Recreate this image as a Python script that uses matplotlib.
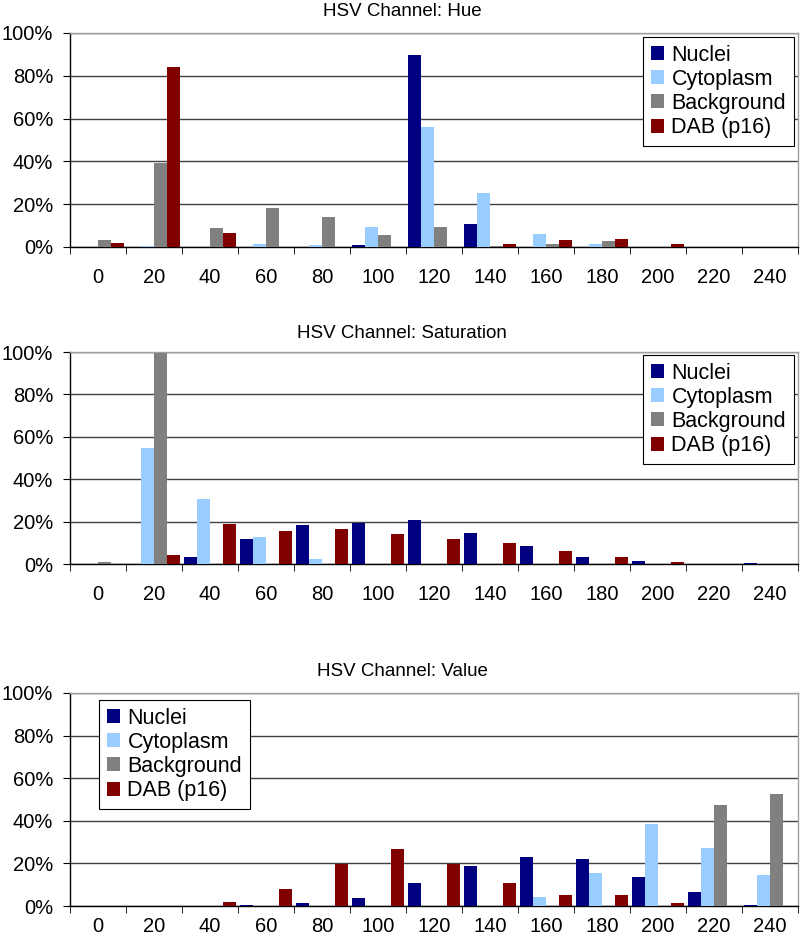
import numpy as np
import matplotlib
matplotlib.use("Agg")
import matplotlib.pyplot as plt
from matplotlib.ticker import FixedLocator, NullFormatter
from matplotlib.patches import Patch

plt.rcParams['font.family'] = ['Liberation Sans', 'DejaVu Sans']

# bins shown on the x axis
bins = ['0', '20', '40', '60', '80', '100', '120', '140', '160', '180', '200', '220', '240']
series = ['Nuclei', 'Cytoplasm', 'Background', 'DAB (p16)']
colors = ['#000080', '#99ccff', '#808080', '#800000']

# HSV channel: Hue (percent)
hue_nuclei = [0, 0, 0, 0, 0, 0.9, 89.5, 10.8, 0, 0, 0, 0, 0]
hue_cyto = [0, 0.3, 0, 1.2, 1.0, 9.4, 56.3, 25.4, 6.1, 1.4, 0, 0, 0]
hue_backg = [3.1, 39.3, 8.9, 18.3, 13.8, 5.5, 9.5, 0.3, 1.2, 2.8, 0, 0, 0]
hue_dab = [1.9, 83.9, 6.4, 0, 0, 0, 0, 1.2, 3.4, 3.7, 1.2, 0, 0]

# HSV channel: Saturation
sat_nuclei = [0, 0, 3.1, 11.6, 18.5, 19.3, 20.9, 14.8, 8.6, 3.1, 1.3, 0, 0.3]
sat_cyto = [0.2, 54.8, 30.6, 12.9, 2.2, 0, 0, 0, 0, 0, 0, 0, 0]
sat_backg = [0.9, 99.5, 0, 0, 0, 0, 0, 0, 0, 0, 0, 0, 0]
sat_dab = [0, 4.1, 18.8, 15.7, 16.3, 14.1, 11.9, 9.7, 6.0, 3.1, 0.8, 0, 0]

# HSV channel: Value
val_nuclei = [0, 0, 0, 0.5, 1.4, 3.6, 10.7, 18.8, 22.9, 22.1, 13.6, 6.7, 0.3]
val_cyto = [0, 0, 0, 0, 0, 0, 0, 0.2, 4.2, 15.5, 38.4, 27.1, 14.6]
val_backg = [0, 0, 0, 0, 0, 0, 0, 0, 0, 0, 0, 47.3, 52.5]
val_dab = [0, 0, 1.7, 8.2, 19.9, 26.8, 19.9, 11.0, 5.2, 5.2, 1.4, 0, 0]

W, H = 800, 946
fig = plt.figure(figsize=(W / 100, H / 100), dpi=100)

def px_axes(left, top, right, bottom):
    return fig.add_axes([left / W, 1 - bottom / H, (right - left) / W, (bottom - top) / H])

# title, data, axes box (px), title y (px), legend top-left (px), x label pad
panels = [
    ("HSV Channel: Hue", [hue_nuclei, hue_cyto, hue_backg, hue_dab], (70, 33, 798, 247), 12, (643, 37), 15),
    ("HSV Channel: Saturation", [sat_nuclei, sat_cyto, sat_backg, sat_dab], (70, 352, 798, 564), 334, (643, 355), 15),
    ("HSV Channel: Value", [val_nuclei, val_cyto, val_backg, val_dab], (70, 693, 798, 906), 671, (99, 700), 8),
]

x = np.arange(len(bins))
bw = 0.232

for title, vals, box, ty, lpos, xpad in panels:
    ax = px_axes(*box)
    for k, v in enumerate(vals):
        ax.bar(x + (k - 1.5) * bw, v, width=bw, color=colors[k], linewidth=0, zorder=3)
    ax.set_xlim(-0.5, len(bins) - 0.5)
    ax.set_ylim(0, 100)
    ax.set_yticks(np.arange(0, 101, 20))
    ax.set_yticklabels([f"{t}%" for t in range(0, 101, 20)])
    ax.yaxis.grid(True, color='#404040', linewidth=1.0, zorder=0)
    ax.set_xticks(x)
    ax.set_xticklabels(bins)
    ax.tick_params(axis='x', which='major', length=0, pad=xpad, labelsize=14.5)
    ax.xaxis.set_minor_locator(FixedLocator(np.arange(-0.5, len(bins), 1.0)))
    ax.xaxis.set_minor_formatter(NullFormatter())
    ax.tick_params(axis='x', which='minor', length=5, direction='out', color='black')
    ax.tick_params(axis='y', length=5, direction='out', pad=7, labelsize=14.5)
    ax.spines['top'].set_color('#a0a0a0')
    ax.spines['right'].set_color('#a0a0a0')
    ax.spines['left'].set_color('black')
    ax.spines['bottom'].set_color('black')
    for s in ax.spines.values():
        s.set_linewidth(1.0)
    fig.text(402 / W, 1 - ty / H, title, ha='center', va='center', fontsize=13.5)

    handles = [Patch(facecolor=c, edgecolor='none') for c in colors]
    l, t = lpos
    leg = ax.legend(handles, series, loc='upper left',
                    bbox_to_anchor=((l - box[0]) / (box[2] - box[0]), 1 - (t - box[1]) / (box[3] - box[1])),
                    fontsize=15.5, frameon=True, fancybox=False, framealpha=1,
                    edgecolor='black', borderpad=0.35, labelspacing=0.15,
                    handlelength=0.62, handleheight=0.62, handletextpad=0.35,
                    borderaxespad=0)
    leg.get_frame().set_linewidth(0.8)
    leg.set_zorder(5)

fig.savefig("out.png", dpi=100)
